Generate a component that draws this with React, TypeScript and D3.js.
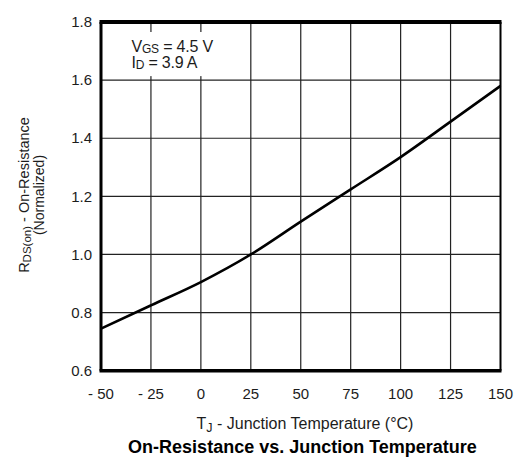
import React from 'react';
import * as d3 from 'd3';

// chart values
const temps = [-50, -25, 0, 25, 50, 75, 100, 125, 150];
const rdsNorm = [0.745, 0.825, 0.905, 1.0, 1.113, 1.224, 1.335, 1.457, 1.58];
const xTicks = [-50, -25, 0, 25, 50, 75, 100, 125, 150];
const yTicks = [0.6, 0.8, 1.0, 1.2, 1.4, 1.6, 1.8];

const W = 517;
const H = 457;
const left = 101, right = 500.5, top = 22, bottom = 370.7;

function App() {
  const x = d3.scaleLinear().domain([-50, 150]).range([left, right]);
  const y = d3.scaleLinear().domain([0.6, 1.8]).range([bottom, top]);

  const pts = temps.map((t, i) => [t, rdsNorm[i]] as [number, number]);
  const line = d3.line<[number, number]>()
    .x(d => x(d[0]))
    .y(d => y(d[1]))
    .curve(d3.curveMonotoneX);

  const font = 'Liberation Sans, Arial, sans-serif';
  const txt = '#1c1c1c';

  const xLabel = (t: number) => (t < 0 ? `- ${Math.abs(t)}` : `${t}`);

  return (
    <svg width={W} height={H} style={{ position: 'absolute', left: 0, top: 0, background: '#fff' }}
      fontFamily={font}>
      {/* grid */}
      {xTicks.slice(1, -1).map(t => (
        <line key={'gx' + t} x1={x(t)} x2={x(t)} y1={top} y2={bottom} stroke="#222" strokeWidth={1.2} />
      ))}
      {yTicks.slice(1, -1).map(v => (
        <line key={'gy' + v} x1={left} x2={right} y1={y(v)} y2={y(v)} stroke="#222" strokeWidth={1.2} />
      ))}
      {/* blank box behind the conditions */}
      <rect x={left + 2} y={top + 10} width={x(25) - left - 4} height={y(1.6) - top - 14} fill="#fff" />
      <text x={131.5} y={51.5} fontSize={16} fill={txt} letterSpacing={-0.2}>
        V<tspan fontSize={12} dy={1.5}>GS</tspan><tspan dy={-1.5}> = 4.5 V</tspan>
        <tspan x={131.5} dy={16}>I</tspan><tspan fontSize={12} dy={1.5}>D</tspan><tspan dy={-1.5}> = 3.9 A</tspan>
      </text>

      {/* curve */}
      <path d={line(pts) || ''} fill="none" stroke="#000" strokeWidth={2.6} />

      {/* frame */}
      <line x1={left - 1.5} x2={right + 1} y1={top} y2={top} stroke="#000" strokeWidth={4} />
      <line x1={left - 1.5} x2={right + 1} y1={bottom} y2={bottom} stroke="#000" strokeWidth={3.5} />
      <line x1={left} x2={left} y1={top} y2={bottom} stroke="#000" strokeWidth={3} />
      <line x1={right} x2={right} y1={top} y2={bottom} stroke="#000" strokeWidth={2} />

      {/* tick labels */}
      {yTicks.map(v => (
        <text key={'ty' + v} x={92} y={y(v)} dy="0.35em" textAnchor="end" fontSize={15} fill={txt}>
          {v.toFixed(1)}
        </text>
      ))}
      {xTicks.map(t => (
        <text key={'tx' + t} x={x(t)} y={393.5} dy="0.35em" textAnchor="middle" fontSize={15} fill={txt}>
          {xLabel(t)}
        </text>
      ))}

      {/* axis titles */}
      <text x={305} y={428.5} textAnchor="middle" fontSize={16} fill={txt}>
        T<tspan fontSize={12.5} dy={3}>J</tspan><tspan dy={-3}> - Junction Temperature (°C)</tspan>
      </text>
      <text x={302.5} y={453} textAnchor="middle" fontSize={18} fontWeight="bold" fill="#000">
        On-Resistance vs. Junction Temperature
      </text>
      <g transform="translate(29,195) rotate(-90)">
        <text x={0} y={0} textAnchor="middle" fontSize={14.5} fill={txt}>
          R<tspan fontSize={11.5} dy={2}>DS(on)</tspan><tspan dy={-2}> - On-Resistance</tspan>
        </text>
        <text x={0} y={14.5} textAnchor="middle" fontSize={14} fill={txt}>(Normalized)</text>
      </g>
    </svg>
  );
}

export default App;
